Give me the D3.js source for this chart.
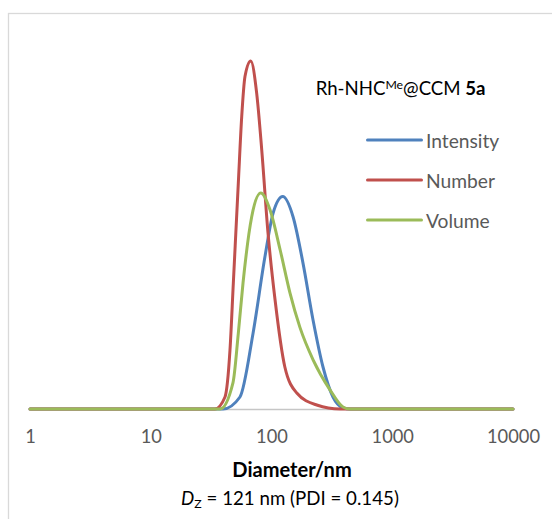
<!DOCTYPE html>
<html>
<head>
<meta charset="utf-8">
<script src="https://cdn.jsdelivr.net/npm/d3@7"></script>
<style>
  html, body { margin: 0; padding: 0; background: #ffffff; }
  svg { display: block; }
  text { font-family: Lato, "Open Sans", "Noto Sans", sans-serif; }
</style>
</head>
<body>
<svg id="chart" width="552" height="519"></svg>
<script>
// Log-scale diameter axis
const tickValues = [1, 10, 100, 1000, 10000];
const tickLabels = ["1", "10", "100", "1000", "10000"];

// Series
const seriesNames = ["Intensity", "Number", "Volume"];
const seriesColors = ["#4f81bd", "#c0504d", "#9bbb59"];

// Intensity distribution (diameter in nm, %)
const intensityDiameter = [1, 39.7, 54.8, 70.3, 88.3, 103, 124, 151, 182, 221, 267, 323, 391, 447, 10000];
const intensityPercent  = [0, 0,    1.0,  6.3,  12.7, 16.3, 17.7, 16.0, 12.2, 7.4, 3.5, 1.0, 0.1, 0, 0];

// Number distribution
const numberDiameter = [1, 34, 41.2, 45.3, 48.3, 53.1, 56.7, 60.3, 67.3, 75.4, 83.0, 93.5, 107, 129, 162, 237, 369, 10000];
const numberPercent  = [0, 0,  1.0,  4.9,  10.5, 18.8, 24.4, 27.7, 29.0, 26.3, 21.6, 14.7, 9.1, 3.5, 1.33, 0.33, 0, 0];

// Volume distribution
const volumeDiameter = [1, 37.5, 48.0, 53.1, 58.1, 68.5, 81.4, 97.2, 118, 142, 172, 221, 305, 391, 447, 10000];
const volumePercent  = [0, 0,    2.2,  6.3,  10.5, 16.0, 18.0, 16.6, 13.25, 9.7, 6.8, 4.1, 1.6, 0.17, 0, 0];

// Texts
const chartTitle = ["Rh-NHC", "Me", "@CCM ", "5a"];
const axisTitle = "Diameter/nm";
const noteParts = ["D", "Z", " = 121 nm (PDI = 0.145)"];

const series = [
  { name: seriesNames[0], color: seriesColors[0], d: intensityDiameter, v: intensityPercent },
  { name: seriesNames[1], color: seriesColors[1], d: numberDiameter,    v: numberPercent },
  { name: seriesNames[2], color: seriesColors[2], d: volumeDiameter,    v: volumePercent }
];

const svg = d3.select("#chart");

// scale a text element so its rendered width equals the target
function fitWidth(sel, target) {
  const w = sel.node().getBBox().width;
  const fs = parseFloat(sel.attr("font-size"));
  sel.attr("font-size", fs * target / w);
  return fs * target / w;
}

// chart frame
svg.append("rect")
  .attr("x", 8.5).attr("y", 13.5)
  .attr("width", 700).attr("height", 700)
  .attr("fill", "#ffffff")
  .attr("stroke", "#d9d9d9")
  .attr("stroke-width", 1.3);

const x = d3.scaleLog().domain([1, 10000]).range([30, 513]);
const y = d3.scaleLinear().domain([0, 30]).range([409, 49]);

// x axis
const axis = d3.axisBottom(x)
  .tickValues(tickValues)
  .tickFormat((d, i) => tickLabels[i])
  .tickSize(0)
  .tickSizeOuter(0);

const gx = svg.append("g")
  .attr("transform", `translate(0,${y(0)})`)
  .call(axis);
gx.select(".domain").attr("stroke", "#c6c6c6").attr("stroke-width", 1.5);
gx.selectAll(".tick text")
  .attr("dy", null)
  .attr("y", 34)
  .attr("fill", "#595959")
  .attr("font-size", 20)
  .style("font-family", "Lato, 'Open Sans', sans-serif");
const lastTick = gx.selectAll(".tick text").filter((d) => d === 10000);
const tickSize = fitWidth(lastTick, 53);
gx.selectAll(".tick text").attr("font-size", tickSize);

// distribution curves
const line = d3.line()
  .x((p) => x(p[0]))
  .y((p) => y(p[1]))
  .curve(d3.curveMonotoneX);

svg.append("g").selectAll("path")
  .data(series)
  .join("path")
  .attr("d", (s) => line(s.d.map((dv, i) => [dv, s.v[i]])))
  .attr("fill", "none")
  .attr("stroke", (s) => s.color)
  .attr("stroke-width", 3)
  .attr("stroke-linejoin", "round")
  .attr("stroke-linecap", "round");

// title
const title = svg.append("text")
  .attr("x", 315.7).attr("y", 95)
  .attr("font-size", 20)
  .attr("fill", "#000000");
title.append("tspan").text(chartTitle[0]);
title.append("tspan").attr("font-size", "0.66em").attr("dy", "-0.5em").text(chartTitle[1]);
title.append("tspan").attr("dy", "0.33em").text(chartTitle[2]);
title.append("tspan").attr("font-weight", "bold").text(chartTitle[3]);
fitWidth(title, 170);

// legend
const legend = svg.append("g");
const legendRows = legend.selectAll("g")
  .data(series)
  .join("g")
  .attr("transform", (s, i) => `translate(0,${140 + i * 40})`);
legendRows.append("line")
  .attr("x1", 367.5).attr("x2", 421.5)
  .attr("y1", 0).attr("y2", 0)
  .attr("stroke", (s) => s.color)
  .attr("stroke-width", 3)
  .attr("stroke-linecap", "round");
const legendTexts = legendRows.append("text")
  .attr("x", 426).attr("y", 7.5)
  .attr("fill", "#595959")
  .attr("font-size", 20)
  .text((s) => s.name);
const legendSize = fitWidth(legendTexts.filter((s, i) => i === 0), 74);
legendTexts.attr("font-size", legendSize);

// axis title
const xTitle = svg.append("text")
  .attr("x", 292).attr("y", 477)
  .attr("text-anchor", "middle")
  .attr("font-size", 20)
  .attr("font-weight", "bold")
  .attr("fill", "#000000")
  .text(axisTitle);
fitWidth(xTitle, 119.5);

// note under the axis title
const note = svg.append("text")
  .attr("x", 290).attr("y", 505)
  .attr("text-anchor", "middle")
  .attr("font-size", 20)
  .attr("fill", "#000000");
note.append("tspan").attr("font-style", "italic").text(noteParts[0]);
note.append("tspan").attr("font-size", "0.66em").attr("dy", "0.25em").text(noteParts[1]);
note.append("tspan").attr("dy", "-0.17em").text(noteParts[2]);
fitWidth(note, 218);
</script>
</body>
</html>
